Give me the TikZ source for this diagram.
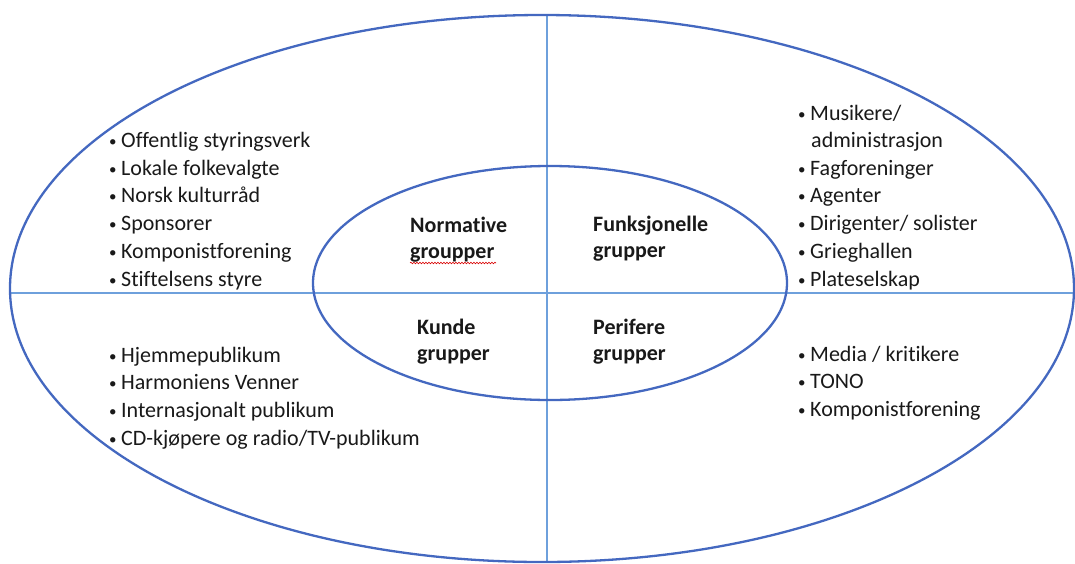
\documentclass[tikz,border=0pt]{standalone}
\usepackage{fontspec}
\setmainfont{Carlito}[RawFeature={-liga;-dlig;-clig}]
\usetikzlibrary{shapes.geometric,decorations.pathmorphing}
\definecolor{ringblue}{RGB}{68,104,192}
\definecolor{axisblue}{RGB}{110,160,220}
\definecolor{txt}{RGB}{25,25,25}
\newcommand{\bl}{\llap{\raisebox{1pt}{\fontsize{15}{15}\selectfont •}\hspace{4.5pt}}}
\tikzset{
  ring/.style={ellipse, draw=ringblue, line width=2.3pt, inner sep=0pt},
  axis/.style={draw=axisblue, line width=1.2pt},
  itemtxt/.style={anchor=base west, inner sep=0pt, text=txt, font=\fontsize{22}{27.7}\selectfont},
  grouplbl/.style={anchor=base west, inner sep=0pt, text=txt, font=\fontsize{22}{26}\selectfont\bfseries},
  squiggle/.style={draw=red!85!black, line width=0.6pt, decorate, decoration={snake, amplitude=0.8pt, segment length=3pt}}
}
\begin{document}
\begin{tikzpicture}[x=1pt,y=-1pt]
\useasboundingbox (0,0) rectangle (1075,563);
\fill[white] (0,0) rectangle (1075,563);
% axes
\coordinate (vtop) at (547,15);
\coordinate (vbot) at (547,563);
\coordinate (hleft) at (11,293);
\coordinate (hright) at (1075,293);
\draw[axis] (vtop) -- (vbot);
\draw[axis] (hleft) -- (hright);
% ellipses
\node[ring, minimum width=1064pt, minimum height=547pt] (outer) at (542,288.5) {};
\node[ring, minimum width=474pt, minimum height=234pt] (inner) at (550,283) {};
% group labels
\node[grouplbl] (n1) at (410,232) {Normative};
\node[grouplbl] (n2) at (410,258) {groupper};
\draw[squiggle] (410,263) -- (496,263);
\node[grouplbl] (f1) at (593,231) {Funksjonelle};
\node[grouplbl] (f2) at (593,257) {grupper};
\node[grouplbl] (k1) at (417,334) {Kunde};
\node[grouplbl] (k2) at (417,360) {grupper};
\node[grouplbl] (p1) at (593,334) {Perifere};
\node[grouplbl] (p2) at (593,360) {grupper};
% top-left list
\node[itemtxt] (tl1) at (121,147) {\bl Offentlig styringsverk};
\node[itemtxt] (tl2) at (121,175) {\bl Lokale folkevalgte};
\node[itemtxt] (tl3) at (121,202) {\bl Norsk kulturråd};
\node[itemtxt] (tl4) at (121,230) {\bl Sponsorer};
\node[itemtxt] (tl5) at (121,258) {\bl Komponistforening};
\node[itemtxt] (tl6) at (121,286) {\bl Stiftelsens styre};
% top-right list
\node[itemtxt] (tr1) at (810,120) {\bl Musikere/};
\node[itemtxt] (tr1b) at (811,147) {administrasjon};
\node[itemtxt] (tr2) at (810,175) {\bl Fagforeninger};
\node[itemtxt] (tr3) at (810,202) {\bl Agenter};
\node[itemtxt] (tr4) at (810,230) {\bl Dirigenter/ solister};
\node[itemtxt] (tr5) at (810,258) {\bl Grieghallen};
\node[itemtxt] (tr6) at (810,286) {\bl Plateselskap};
% bottom-left list
\node[itemtxt] (bl1) at (121,362) {\bl Hjemmepublikum};
\node[itemtxt] (bl2) at (121,389) {\bl Harmoniens Venner};
\node[itemtxt] (bl3) at (121,417) {\bl Internasjonalt publikum};
\node[itemtxt] (bl4) at (121,445) {\bl CD-kjøpere og radio/TV-publikum};
% bottom-right list
\node[itemtxt] (br1) at (810,361) {\bl Media / kritikere};
\node[itemtxt] (br2) at (810,388) {\bl TONO};
\node[itemtxt] (br3) at (810,416) {\bl Komponistforening};
\end{tikzpicture}
\end{document}
